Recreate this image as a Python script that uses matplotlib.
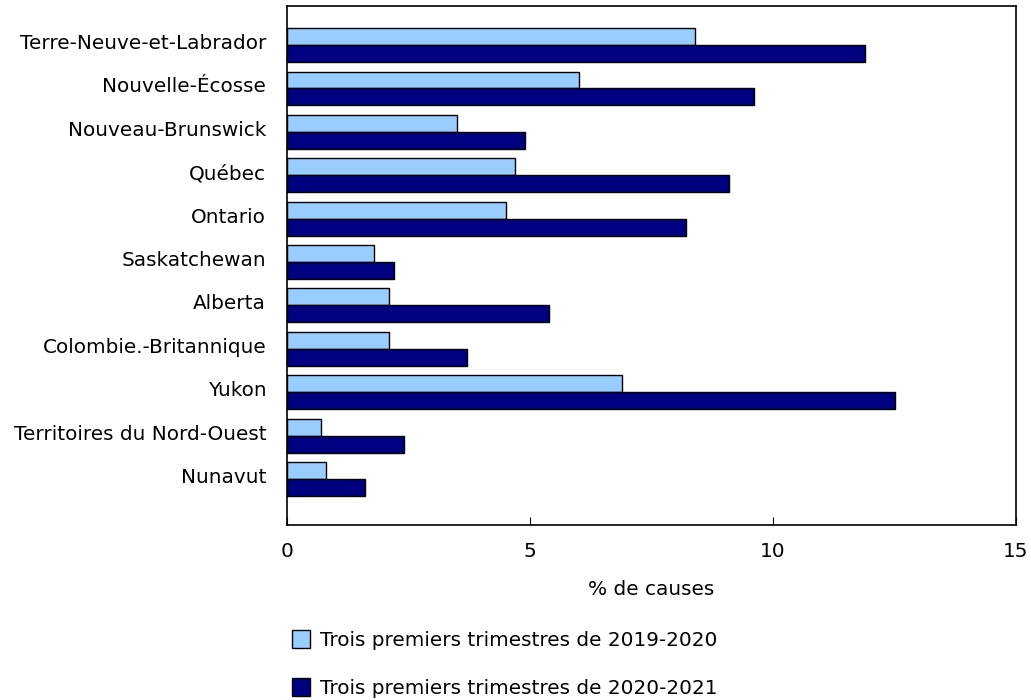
import numpy as np
import matplotlib.pyplot as plt
from matplotlib.patches import Patch

provinces = [
    "Terre-Neuve-et-Labrador",
    "Nouvelle-Écosse",
    "Nouveau-Brunswick",
    "Québec",
    "Ontario",
    "Saskatchewan",
    "Alberta",
    "Colombie.-Britannique",
    "Yukon",
    "Territoires du Nord-Ouest",
    "Nunavut",
]
pct_2019 = [8.4, 6.0, 3.5, 4.7, 4.5, 1.8, 2.1, 2.1, 6.9, 0.7, 0.8]
pct_2020 = [11.9, 9.6, 4.9, 9.1, 8.2, 2.2, 5.4, 3.7, 12.5, 2.4, 1.6]
series_labels = [
    "Trois premiers trimestres de 2019-2020",
    "Trois premiers trimestres de 2020-2021",
]
colors = ["#99ccff", "#000080"]

plt.rcParams["font.family"] = ["DejaVu Sans"]
fs = 14.4

fig = plt.figure(figsize=(10.31, 7.0), dpi=100)
ax = fig.add_axes([287 / 1031, 175 / 700, 729 / 1031, 519 / 700])

y = np.arange(len(provinces))
h = 0.39
ax.barh(y - h / 2, pct_2019, height=h, color=colors[0], edgecolor="black", linewidth=1)
ax.barh(y + h / 2, pct_2020, height=h, color=colors[1], edgecolor="black", linewidth=1)

ax.set_xlim(0, 15)
ax.set_ylim(len(provinces) - 1 + 1.06, -0.9)
ax.set_xticks([0, 5, 10, 15])
ax.set_yticks(y - 0.08)
ax.set_yticklabels(provinces, fontsize=fs)
ax.tick_params(axis="y", length=0, pad=15)
ax.tick_params(axis="x", direction="in", length=6, labelsize=fs, pad=12)
for s in ax.spines.values():
    s.set_linewidth(1.2)
ax.set_xlabel("% de causes", fontsize=fs, labelpad=14)

handles = [Patch(facecolor=c, edgecolor="black", linewidth=1) for c in colors]
fig.legend(
    handles,
    series_labels,
    loc="upper left",
    bbox_to_anchor=(274 / 1031, 1 - 612 / 700),
    frameon=False,
    fontsize=fs,
    handlelength=0.9,
    handleheight=1.0,
    handletextpad=0.5,
    labelspacing=1.42,
)

fig.savefig("out.png", dpi=100)
